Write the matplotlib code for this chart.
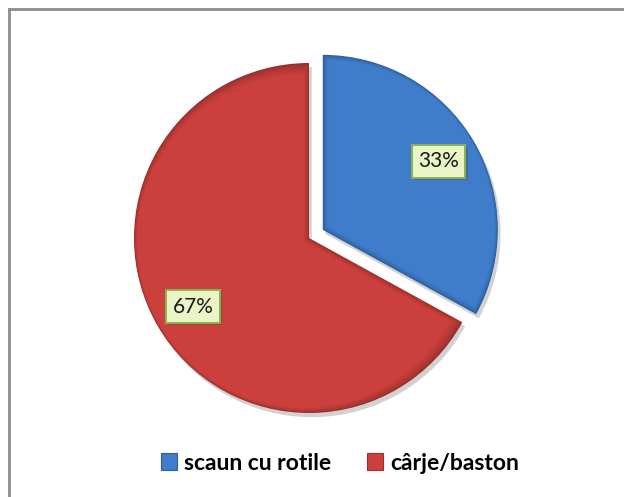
import matplotlib
matplotlib.use("Agg")
import matplotlib.pyplot as plt
import matplotlib.patheffects as pe
import numpy as np
from matplotlib.patches import Patch, Wedge
from matplotlib.lines import Line2D
from matplotlib.colors import to_rgb

categories = ["scaun cu rotile", "cârje/baston"]
values = [33, 67]
colors = ["#3F7DCA", "#CB403C"]
rim_colors = ["#2D5E9C", "#99302C"]

W, H = 624, 497
fig = plt.figure(figsize=(W / 100, H / 100), dpi=100)
ax = fig.add_axes([0, 0, 1, 1])

cx, cy, r = 309, H - 238, 175
wedges, texts, autotexts = ax.pie(
    values,
    colors=colors,
    startangle=90,
    counterclock=False,
    explode=[16, 0],
    radius=r,
    center=(cx, cy),
    autopct="%1.0f%%",
    pctdistance=0.77,
    wedgeprops=dict(linewidth=0),
    textprops=dict(fontsize=15, family="Lato", color="#1a1a1a"),
)

# soft drop shadow under each slice
for w in wedges:
    w.set_path_effects([pe.SimplePatchShadow(offset=(2, -3), shadow_rgbFace="#000000",
                                             alpha=0.18), pe.Normal()])

# bevelled rim: a few inset copies of each wedge blending from rim to body colour
n_layers = 6
for w, body, rim in zip(wedges, colors, rim_colors):
    w.set_facecolor(rim)
    w.set_zorder(1)
    t1, t2 = w.theta1, w.theta2
    half = np.deg2rad((t2 - t1) / 2)
    mid = np.deg2rad((t1 + t2) / 2)
    x0, y0 = w.center
    for k in range(1, n_layers + 1):
        d = k * 0.9
        s = d / np.sin(half)
        c = np.array(to_rgb(rim)) + (np.array(to_rgb(body)) - np.array(to_rgb(rim))) * (k / n_layers) ** 0.7
        inner = Wedge((x0 + s * np.cos(mid), y0 + s * np.sin(mid)), w.r - d - s * 0.5,
                      t1, t2, facecolor=c, edgecolor="none", zorder=1 + k * 0.01)
        ax.add_patch(inner)

for t in autotexts:
    t.set_zorder(5)
    t.set_bbox(dict(boxstyle="square,pad=0.3", fc="#EAF5C6", ec="#8DB255", lw=1.4,
                    path_effects=[pe.SimplePatchShadow(offset=(1.5, -1.5), alpha=0.35),
                                  pe.Normal()]))

ax.set_xlim(0, W)
ax.set_ylim(0, H)
ax.set_aspect("auto")
ax.axis("off")

# chart frame (top and left edges)
fig.add_artist(Line2D([9 / W, 9 / W], [0, 1 - 9 / H], color="#8C8C8C", lw=2,
                      transform=fig.transFigure))
fig.add_artist(Line2D([9 / W, 1], [1 - 9 / H, 1 - 9 / H], color="#8C8C8C", lw=2,
                      transform=fig.transFigure))

handles = [Patch(facecolor=c, edgecolor=e, lw=0.8) for c, e in zip(colors, rim_colors)]
fig.legend(handles, categories, loc="center", bbox_to_anchor=(340 / W, 1 - 463 / H),
           ncol=2, frameon=False, handlelength=0.7, handleheight=0.7,
           handletextpad=0.3, columnspacing=1.6,
           prop=dict(family="Lato", weight="bold", size=16.5))

fig.savefig("out.png", dpi=100, facecolor="white")
